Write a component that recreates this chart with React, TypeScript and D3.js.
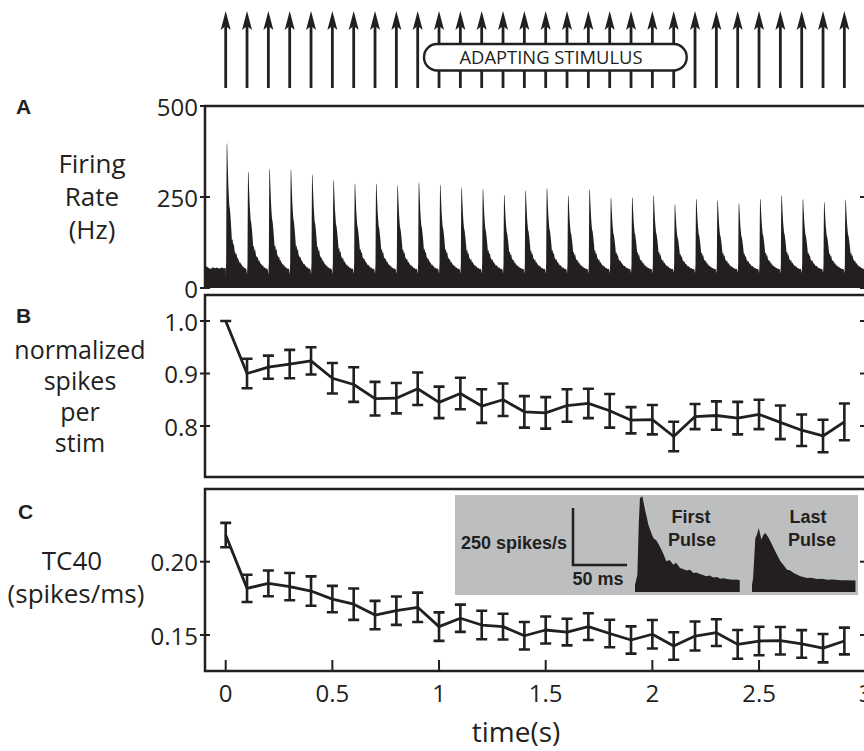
import React from "react";
import * as d3 from "d3";

// stimulus onset times (s), one per pulse
const pulseTimes = [0, 0.1, 0.2, 0.3, 0.4, 0.5, 0.6, 0.7, 0.8, 0.9, 1.0, 1.1, 1.2, 1.3, 1.4, 1.5, 1.6, 1.7, 1.8, 1.9, 2.0, 2.1, 2.2, 2.3, 2.4, 2.5, 2.6, 2.7, 2.8, 2.9];
const adaptStart = 1.0;
const adaptEnd = 2.1;

// A: peak firing rate of each pulse (Hz)
const peakRates = [399, 321, 329, 327, 313, 298, 288, 288, 283, 291, 285, 277, 273, 257, 269, 276, 255, 272, 249, 250, 255, 231, 246, 242, 234, 246, 255, 245, 237, 243];
// spontaneous rate before the first pulse
const preTimes = [-0.1, -0.09, -0.08, -0.07, -0.06, -0.05, -0.04, -0.03, -0.02, -0.01, 0];
const preRates = [52, 60, 55, 52, 57, 54, 56, 53, 56, 54, 55];

// inset: first and last pulse PSTH (ms, spikes/s)
const firstPulseMs = [0, 1, 2.2, 3.5, 4.6, 6.8, 9.3, 12.4, 15, 17, 20, 23, 26, 29, 32, 35.5, 38, 41.7, 45, 48, 51, 54, 57, 60, 63, 66, 69, 72.6, 76, 79, 82, 85, 88, 91, 94, 97];
const firstPulseHz = [32, 50, 76, 300, 412, 420, 361, 295, 260, 237, 225, 200, 170, 135, 140, 120, 128, 105, 100, 94, 98, 83, 86, 79, 75, 69, 72, 64, 66, 58, 60, 57, 55, 54, 55, 51];
const lastPulseMs = [0, 1, 3.1, 4.5, 6.2, 8.7, 10.5, 12.4, 15.5, 18.5, 21.6, 26.3, 29, 32.4, 35, 38.6, 44.8, 51, 55, 60, 65, 69.5, 75, 82, 88, 95.8];
const lastPulseHz = [32, 60, 237, 250, 281, 230, 250, 259, 237, 208, 178, 135, 120, 98, 95, 83, 69, 61, 63, 57, 58, 54, 55, 51, 52, 50];

// B: normalized spikes per stim
const normSpikes = [1.0, 0.9, 0.912, 0.918, 0.924, 0.891, 0.879, 0.852, 0.853, 0.871, 0.845, 0.862, 0.838, 0.85, 0.827, 0.825, 0.839, 0.843, 0.829, 0.811, 0.812, 0.78, 0.818, 0.82, 0.815, 0.822, 0.807, 0.792, 0.781, 0.808];
const normSpikesErr = [0, 0.028, 0.022, 0.027, 0.026, 0.029, 0.033, 0.032, 0.029, 0.031, 0.03, 0.03, 0.032, 0.031, 0.03, 0.03, 0.031, 0.028, 0.032, 0.025, 0.028, 0.028, 0.024, 0.027, 0.031, 0.028, 0.032, 0.03, 0.031, 0.035];

// C: TC40 (spikes/ms)
const tc40 = [0.2182, 0.1818, 0.1852, 0.183, 0.18, 0.1745, 0.171, 0.1636, 0.1666, 0.1689, 0.1557, 0.1614, 0.1568, 0.1557, 0.1495, 0.1534, 0.152, 0.1557, 0.151, 0.1466, 0.1505, 0.1425, 0.1493, 0.1516, 0.1436, 0.1459, 0.1461, 0.1439, 0.141, 0.1459];
const tc40Err = [0.0083, 0.0093, 0.0088, 0.0093, 0.01, 0.009, 0.0107, 0.0097, 0.0097, 0.01, 0.0097, 0.0093, 0.0097, 0.0088, 0.0094, 0.0092, 0.0091, 0.0091, 0.0094, 0.0093, 0.0097, 0.0094, 0.0099, 0.0091, 0.0098, 0.0097, 0.0094, 0.0094, 0.0097, 0.0091];

const xTicks = [0, 0.5, 1, 1.5, 2, 2.5, 3];
const xTickLabels = ["0", "0.5", "1", "1.5", "2", "2.5", "3"];
const aTicks = [0, 250, 500];
const bTicks = [0.8, 0.9, 1.0];
const bTickLabels = ["0.8", "0.9", "1.0"];
const cTicks = [0.15, 0.2];
const cTickLabels = ["0.15", "0.20"];

const INK = "#231f20";
const FONT = "'Open Sans', sans-serif";
const BOLD = "'Liberation Sans', Arial, sans-serif";

const W = 864;
const H = 751;
const axL = 205;
const axR = 867;

export default function App() {
  const x = d3.scaleLinear().domain([0, 3]).range([225.7, 865.7]);
  const yA = d3.scaleLinear().domain([0, 500]).range([288, 106]);
  const yB = d3.scaleLinear().domain([0.8, 1.0]).range([426, 321]);
  const yC = d3.scaleLinear().domain([0.15, 0.2]).range([635, 561.7]);

  // panel A histogram: each pulse shaped like the first-pulse PSTH, scaled to its peak
  const base = 50;
  const firstMax = d3.max(firstPulseHz) as number;
  const psth: [number, number][] = preTimes.map((t, i) => [t, preRates[i]]);
  pulseTimes.forEach((t0, i) => {
    const k = (peakRates[i] - base) / (firstMax - base);
    firstPulseMs.forEach((ms, j) => {
      psth.push([t0 + ms / 1000, Math.max(20, base + (firstPulseHz[j] - base) * k)]);
    });
  });
  psth.push([3.0, 48]);
  const areaA = d3
    .area<[number, number]>()
    .x((d) => Math.max(axL, x(d[0])))
    .y0(yA(0))
    .y1((d) => yA(d[1]));

  const lineB = d3.line<number>().x((_, i) => x(pulseTimes[i])).y((d) => yB(d));
  const lineC = d3.line<number>().x((_, i) => x(pulseTimes[i])).y((d) => yC(d));

  // inset scales
  const insetY = d3.scaleLinear().domain([0, 250]).range([592, 535]);
  const insetXFirst = d3.scaleLinear().domain([0, 50]).range([635, 689]);
  const insetXLast = d3.scaleLinear().domain([0, 50]).range([752, 806]);
  const areaFirst = d3
    .area<number>()
    .x((_, i) => insetXFirst(firstPulseMs[i]))
    .y0(insetY(0))
    .y1((d) => insetY(d));
  const areaLast = d3
    .area<number>()
    .x((_, i) => insetXLast(lastPulseMs[i]))
    .y0(insetY(0))
    .y1((d) => insetY(d));
  const barX = 573;
  const barY = 565;
  const barH = insetY(0) - insetY(250);
  const barW = insetXFirst(50) - insetXFirst(0);

  const cap = 5.5;
  const errorBars = (vals: number[], errs: number[], y: d3.ScaleLinear<number, number>) =>
    vals.map((v, i) => {
      const cx = x(pulseTimes[i]);
      const top = y(v + errs[i]);
      const bot = y(v - errs[i]);
      return (
        <path
          key={i}
          d={`M${cx},${top}V${bot}M${cx - cap},${top}H${cx + cap}M${cx - cap},${bot}H${cx + cap}`}
          stroke={INK}
          strokeWidth={2.6}
          fill="none"
        />
      );
    });

  const yTickMarks = (vals: number[], y: d3.ScaleLinear<number, number>) =>
    vals.map((v, i) => (
      <g key={i}>
        <line x1={axL - 5} x2={axL + 5} y1={y(v)} y2={y(v)} stroke={INK} strokeWidth={2} />
        <line x1={860} x2={axR} y1={y(v)} y2={y(v)} stroke={INK} strokeWidth={2} />
      </g>
    ));

  const tickText = (labels: string[], vals: number[], y: d3.ScaleLinear<number, number>) =>
    vals.map((v, i) => (
      <text key={i} x={198} y={y(v)} textAnchor="end" dominantBaseline="central" fontSize={24}>
        {labels[i]}
      </text>
    ));

  return (
    <svg
      width={W}
      height={H}
      style={{ position: "absolute", left: 0, top: 0, background: "#fff" }}
      fontFamily={FONT}
      fill={INK}
    >
      {/* stimulus arrows */}
      {pulseTimes.map((t, i) => {
        const ax = x(t);
        return (
          <g key={i}>
            <line x1={ax} x2={ax} y1={88} y2={24} stroke={INK} strokeWidth={2.8} />
            <path d={`M${ax},11L${ax - 5},30L${ax},26L${ax + 5},30Z`} fill={INK} />
          </g>
        );
      })}
      <rect
        x={x(adaptStart) - 15}
        y={44}
        width={x(adaptEnd) - x(adaptStart) + 28}
        height={26.5}
        rx={13}
        fill="#fff"
        stroke={INK}
        strokeWidth={2.4}
      />
      <text x={551} y={64} textAnchor="middle" fontSize={18} textLength={183} lengthAdjust="spacingAndGlyphs">
        ADAPTING STIMULUS
      </text>

      {/* panel A */}
      <path d={areaA(psth) ?? ""} fill={INK} />
      <path d={`M${axR},${yA(500)}H${axL}V${yA(0)}`} fill="none" stroke={INK} strokeWidth={2.5} />
      {yTickMarks(aTicks, yA)}
      {tickText(aTicks.map(String), aTicks, yA)}
      <text fontSize={26} textAnchor="middle">
        <tspan x={92} y={173}>Firing</tspan>
        <tspan x={92} y={206}>Rate</tspan>
        <tspan x={92} y={239}>(Hz)</tspan>
      </text>
      <text x={16} y={114} fontFamily={BOLD} fontWeight="bold" fontSize={21}>A</text>

      {/* panel B */}
      <rect x={axL} y={295} width={axR - axL} height={182} fill="none" stroke={INK} strokeWidth={2.5} />
      {yTickMarks(bTicks, yB)}
      {tickText(bTickLabels, bTicks, yB)}
      <path d={lineB(normSpikes) ?? ""} fill="none" stroke={INK} strokeWidth={2.8} strokeLinejoin="round" />
      {errorBars(normSpikes, normSpikesErr, yB)}
      <text fontSize={25} textAnchor="middle">
        <tspan x={80} y={359}>normalized</tspan>
        <tspan x={80} y={390}>spikes</tspan>
        <tspan x={80} y={421}>per</tspan>
        <tspan x={80} y={452}>stim</tspan>
      </text>
      <text x={16} y={323} fontFamily={BOLD} fontWeight="bold" fontSize={21}>B</text>

      {/* panel C */}
      <rect x={axL} y={489} width={axR - axL} height={182} fill="none" stroke={INK} strokeWidth={2.5} />
      {yTickMarks(cTicks, yC)}
      {tickText(cTickLabels, cTicks, yC)}
      {xTicks.map((t, i) => (
        <g key={i}>
          <line x1={x(t)} x2={x(t)} y1={671} y2={660} stroke={INK} strokeWidth={2} />
          <text x={x(t)} y={702} textAnchor="middle" fontSize={24}>{xTickLabels[i]}</text>
        </g>
      ))}
      <path d={lineC(tc40) ?? ""} fill="none" stroke={INK} strokeWidth={2.8} strokeLinejoin="round" />
      {errorBars(tc40, tc40Err, yC)}
      <text fontSize={26} textAnchor="middle">
        <tspan x={72} y={570}>TC40</tspan>
        <tspan x={76} y={603}>(spikes/ms)</tspan>
      </text>
      <text x={18} y={519} fontFamily={BOLD} fontWeight="bold" fontSize={21}>C</text>
      <text x={516} y={742} textAnchor="middle" fontSize={28}>time(s)</text>

      {/* inset */}
      <rect x={455} y={495} width={403} height={100} fill="#bcbec0" />
      <path d={areaFirst(firstPulseHz) ?? ""} fill={INK} />
      <path d={areaLast(lastPulseHz) ?? ""} fill={INK} />
      <path d={`M${barX},${barY - barH}V${barY}H${barX + barW}`} fill="none" stroke={INK} strokeWidth={2.5} />
      <g fontFamily={BOLD} fontWeight="bold" fontSize={18}>
        <text x={567} y={549} textAnchor="end">250 spikes/s</text>
        <text x={598} y={585} textAnchor="middle">50 ms</text>
        <text x={691} y={523} textAnchor="middle">First</text>
        <text x={692} y={546} textAnchor="middle">Pulse</text>
        <text x={808} y={523} textAnchor="middle">Last</text>
        <text x={812} y={546} textAnchor="middle">Pulse</text>
      </g>
    </svg>
  );
}
